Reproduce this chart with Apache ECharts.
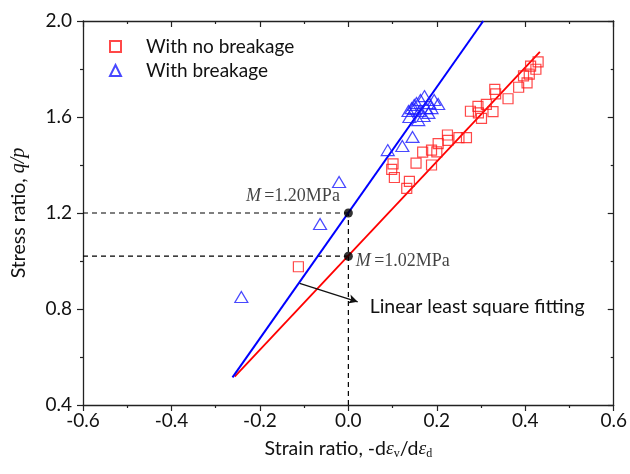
<!DOCTYPE html>
<html><head><meta charset="utf-8">
<script src="https://cdn.jsdelivr.net/npm/echarts@6/dist/echarts.min.js"></script>
<style>html,body{margin:0;padding:0;background:#fff}#c{width:630px;height:474px}</style>
</head><body><div id="c"></div>
<script>
// ---- data ----
const xTicks = [-0.6, -0.4, -0.2, 0.0, 0.2, 0.4, 0.6];
const yTicks = [0.4, 0.8, 1.2, 1.6, 2.0];
const noBreakX = [0.429,0.424,0.412,0.409,0.396,0.404,0.385,0.331,0.333,0.361,0.312,0.293,0.276,0.294,0.327,0.301,0.267,0.250,0.224,0.225,0.203,0.188,0.200,0.168,0.153,0.188,0.101,0.098,0.104,0.138,0.132,-0.113];
const noBreakY = [1.830,1.799,1.812,1.779,1.771,1.742,1.724,1.715,1.696,1.676,1.653,1.644,1.624,1.617,1.622,1.594,1.514,1.514,1.525,1.503,1.489,1.462,1.455,1.454,1.408,1.400,1.405,1.382,1.348,1.332,1.303,0.976];
const breakX = [0.172,0.163,0.154,0.143,0.149,0.183,0.194,0.203,0.138,0.149,0.161,0.170,0.181,0.158,0.176,0.188,0.136,0.145,0.122,0.089,-0.021,-0.064,-0.242];
const breakY = [1.687,1.671,1.658,1.637,1.650,1.658,1.671,1.654,1.600,1.633,1.625,1.604,1.617,1.587,1.637,1.637,1.625,1.517,1.479,1.462,1.329,1.154,0.850];
const fitNoBreakX = [-0.257, 0.433];
const fitNoBreakY = [0.518, 1.871];
const fitBreakX = [-0.262, 0.305];
const fitBreakY = [0.515, 2.0];
const mX = [0.0, 0.0];
const mY = [1.20, 1.02];
const mLabels = ['1.20MPa', '1.02MPa'];
const arrowX = [-0.110, 0.021];
const arrowY = [0.907, 0.830];
const seriesNames = ['With no breakage', 'With breakage'];

const zip = (a, b) => a.map((v, i) => [v, b[i]]);
const sans = 'Lato';
const serif = 'Liberation Serif';
const fmt = v => v.toFixed(1);

const chart = echarts.init(document.getElementById('c'), null, {renderer: 'canvas'});
const axisCommon = {
  type: 'value', splitLine: {show: false},
  axisLine: {show: true, onZero: false, lineStyle: {color: '#222', width: 1.3}},
  axisTick: {show: true, length: 6, lineStyle: {color: '#222', width: 1.2}},
  minorTick: {show: true, splitNumber: 2, length: 3, lineStyle: {color: '#222', width: 1.2}},
  minorSplitLine: {show: false}
};
const dashStyle = {color: '#000', width: 1.2, type: [5, 4]};

const option = {
  backgroundColor: '#fff',
  animation: false,
  grid: {left: 83, right: 13, top: 21, bottom: 69, containLabel: false},
  legend: {
    orient: 'vertical', left: 104, top: 32, itemGap: 5,
    itemWidth: 11, itemHeight: 11,
    data: seriesNames,
    textStyle: {fontFamily: sans, fontSize: 19, color: '#111', padding: [0, 0, 0, 20]}
  },
  xAxis: [
    Object.assign({}, axisCommon, {
      min: xTicks[0], max: xTicks[xTicks.length - 1], interval: 0.2, position: 'bottom',
      axisLabel: {fontFamily: sans, fontSize: 19, color: '#111', margin: 6, formatter: fmt},
      name: '{a|Strain ratio, -d}{e|ε}{s|v}{a|/d}{e|ε}{s|d}',
      nameLocation: 'middle', nameGap: 24,
      nameTextStyle: {
        rich: {
          a: {fontFamily: sans, fontSize: 19.5, color: '#111', lineHeight: 22},
          e: {fontFamily: serif, fontStyle: 'italic', fontSize: 19.5, color: '#111', lineHeight: 22},
          s: {fontFamily: serif, fontSize: 12, color: '#111', lineHeight: 13, verticalAlign: 'bottom', padding: [13, 0, 0, 0]}
        }
      }
    }),
    Object.assign({}, axisCommon, {
      min: xTicks[0], max: xTicks[xTicks.length - 1], interval: 0.2, position: 'top',
      axisTick: Object.assign({}, axisCommon.axisTick, {inside: true}),
      axisLabel: {show: false}
    })
  ],
  yAxis: [
    Object.assign({}, axisCommon, {
      min: yTicks[0], max: yTicks[yTicks.length - 1], interval: 0.4, position: 'left',
      axisLabel: {fontFamily: sans, fontSize: 19, color: '#111', margin: 11, formatter: fmt},
      name: '{a|Stress ratio, }{i|q/p}',
      nameLocation: 'middle', nameGap: 54, nameRotate: 90,
      nameTextStyle: {
        rich: {
          a: {fontFamily: sans, fontSize: 19.5, color: '#111'},
          i: {fontFamily: serif, fontStyle: 'italic', fontSize: 20, color: '#111'}
        }
      }
    }),
    Object.assign({}, axisCommon, {
      min: yTicks[0], max: yTicks[yTicks.length - 1], interval: 0.4, position: 'right',
      axisTick: Object.assign({}, axisCommon.axisTick, {inside: true}),
      axisLabel: {show: false}
    })
  ],
  series: [
    {
      name: seriesNames[0], type: 'scatter', symbol: 'rect', symbolSize: 10, z: 5,
      itemStyle: {color: 'rgba(255,255,255,0)', borderColor: '#ff1a1a', borderWidth: 1.2},
      data: zip(noBreakX, noBreakY)
    },
    {
      name: seriesNames[1], type: 'scatter', symbol: 'triangle', symbolSize: [13, 11], z: 5,
      itemStyle: {color: 'rgba(255,255,255,0)', borderColor: '#1a1aff', borderWidth: 1.2},
      data: zip(breakX, breakY)
    },
    {
      type: 'line', symbol: 'none', z: 4, silent: true,
      lineStyle: {color: '#ff0000', width: 1.8},
      data: zip(fitNoBreakX, fitNoBreakY)
    },
    {
      type: 'line', symbol: 'none', z: 4, silent: true, clip: true,
      lineStyle: {color: '#0000ff', width: 2},
      data: zip(fitBreakX, fitBreakY)
    },
    {
      type: 'line', symbol: 'none', z: 3, silent: true, lineStyle: dashStyle,
      data: [[xTicks[0], mY[0]], [mX[0], mY[0]]]
    },
    {
      type: 'line', symbol: 'none', z: 3, silent: true, lineStyle: dashStyle,
      data: [[xTicks[0], mY[1]], [mX[1], mY[1]]]
    },
    {
      type: 'line', symbol: 'none', z: 3, silent: true, lineStyle: dashStyle,
      data: [[mX[0], yTicks[0]], [mX[0], mY[0]]]
    },
    {
      type: 'scatter', symbol: 'circle', symbolSize: 9, z: 6, silent: true,
      itemStyle: {color: '#000'},
      data: [
        {value: [mX[0], mY[0]], label: {show: true, position: 'left', distance: 4, offset: [0, -17],
          formatter: '{m|M} {t|=' + mLabels[0] + '}'}},
        {value: [mX[1], mY[1]], label: {show: true, position: 'right', distance: 3, offset: [0, 5],
          formatter: '{m|M} {t|=' + mLabels[1] + '}'}}
      ],
      label: {
        rich: {
          m: {fontFamily: serif, fontStyle: 'italic', fontSize: 18, color: '#111'},
          t: {fontFamily: serif, fontSize: 18, color: '#111'}
        }
      }
    },
    {
      type: 'line', symbol: 'none', z: 6, silent: true, data: [],
      markLine: {
        silent: true, symbol: ['none', 'arrow'], symbolSize: [7, 9],
        lineStyle: {color: '#111', width: 1.3, type: 'solid'},
        label: {show: false},
        data: [[{coord: [arrowX[0], arrowY[0]]}, {coord: [arrowX[1], arrowY[1]]}]]
      },
      markPoint: {
        symbol: 'circle', symbolSize: 0, silent: true,
        label: {show: true, position: 'right', distance: 12, offset: [0, 5],
          formatter: 'Linear least square fitting',
          fontFamily: sans, fontSize: 19.5, color: '#111'},
        data: [{coord: [arrowX[1], arrowY[1]]}]
      }
    }
  ]
};
chart.setOption(option);
</script>
</body></html>
